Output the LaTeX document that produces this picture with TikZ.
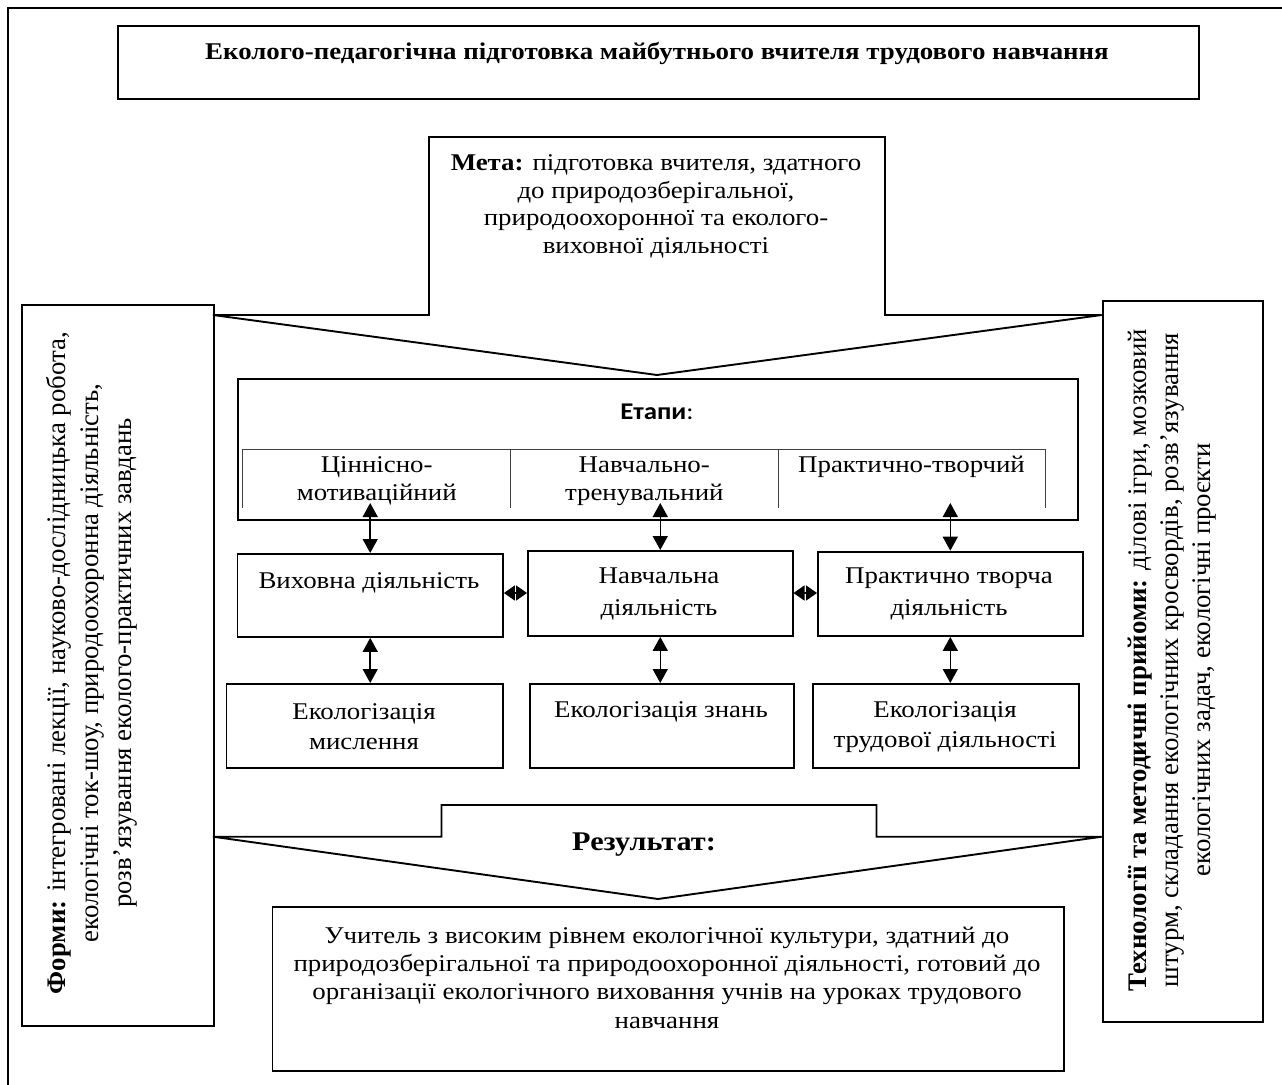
\documentclass[tikz,border=0pt]{standalone}
\usepackage{fontspec}
\setmainfont{Liberation Serif}[FakeStretch=1.12]
\newfontfamily\rotfont{Liberation Serif}
\newfontfamily\calib{Carlito}[FakeStretch=1.12]
\usetikzlibrary{arrows.meta}
\begin{document}
\begin{tikzpicture}[x=1pt,y=-1pt,
  box/.style={draw, line width=1.9pt, inner sep=0pt, anchor=north west},
  shape line/.style={draw, line width=1.9pt, line join=miter},
  thinline/.style={draw=black!75, line width=0.9pt},
  txt/.style={align=center, inner sep=0pt, font=\fontsize{24}{27.7}\selectfont},
  rottxt/.style={align=center, inner sep=0pt, rotate=90},
  dbl/.style={{Triangle[length=14pt,width=15pt]}-{Triangle[length=14pt,width=15pt]}, line width=1.5pt},
  hdbl/.style={{Triangle[length=11pt,width=15pt]}-{Triangle[length=11pt,width=15pt]}, line width=1.5pt},
]
\useasboundingbox (0,0) rectangle (1282,1084);
% outer frame
\draw[line width=2pt] (8,1100) -- (8,8) -- (1300,8);

% title
\node[box, minimum width=1081pt, minimum height=73pt] (title) at (117,24.7) {};
\node[txt, font=\bfseries\fontsize{24}{27.7}\selectfont] (title-t) at (657,53) {Еколого-педагогічна підготовка майбутнього вчителя трудового навчання};

% goal arrow
\draw[shape line] (213,315) -- (429,315) -- (429,137) -- (885,137) -- (885,315) -- (1101.7,315) -- (657,375) -- cycle;
\node[txt] (meta) at (656,206.5) {\textbf{Мета:} підготовка вчителя, здатного\\ до природозберігальної,\\ природоохоронної та еколого-\\ виховної діяльності};

% side panels
\node[box, minimum width=192.3pt, minimum height=721pt] (left) at (20.7,304) {};
\node[rottxt, font=\rotfont\fontsize{26.8}{33}\selectfont] (formy) at (92,663) {\textbf{Форми:} інтегровані лекції, науково-дослідницька робота,\\ екологічні ток-шоу, природоохоронна діяльність,\\ розв’язування еколого-практичних завдань};
\node[box, minimum width=160pt, minimum height=721pt] (right) at (1101.7,300) {};
\node[rottxt, font=\rotfont\fontsize{26.8}{32}\selectfont] (tekh) at (1172,660) {\textbf{Технології та методичні прийоми:} ділові ігри, мозковий\\ штурм, складання екологічних кросвордів, розв’язування\\ екологічних задач, екологічні проєкти};

% stages
\node[box, minimum width=840.6pt, minimum height=140.7pt] (etapy) at (236.7,378.3) {};
\node[inner sep=0pt] (etapy-t) at (657,412) {\calib\fontsize{24}{28}\selectfont\textbf{Етапи}:};
\draw[thinline] (242.7,508) -- (242.7,449) -- (1045,449) -- (1045,508);
\draw[thinline] (510.7,449) -- (510.7,508);
\draw[thinline] (778,449) -- (778,508);
\node[txt, font=\fontsize{24}{28}\selectfont] (s1) at (376.7,481) {Ціннісно-\\мотиваційний};
\node[txt, font=\fontsize{24}{28}\selectfont] (s2) at (644.3,481) {Навчально-\\тренувальний};
\node[txt, font=\fontsize{24}{28}\selectfont] (s3) at (911.5,467) {Практично-творчий};

% activities
\node[box, minimum width=265.5pt, minimum height=83pt] (vykh) at (236.5,553) {};
\node[txt] (vykh-t) at (369,583) {Виховна діяльність};
\node[box, minimum width=264.6pt, minimum height=85pt] (navch) at (527,550) {};
\node[txt, font=\fontsize{24}{32}\selectfont] (navch-t) at (659,593.5) {Навчальна\\діяльність};
\node[box, minimum width=264.7pt, minimum height=84.3pt] (prakt) at (817,550.7) {};
\node[txt, font=\fontsize{24}{32}\selectfont] (prakt-t) at (949,593.5) {Практично творча\\діяльність};

% ecologization
\node[box, minimum width=276.5pt, minimum height=84pt] (ekm) at (225.5,683) {};
\node[txt, font=\fontsize{24}{30}\selectfont] (ekm-t) at (364,727) {Екологізація\\мислення};
\node[box, minimum width=264pt, minimum height=84pt] (ekz) at (529,683) {};
\node[txt] (ekz-t) at (661,712) {Екологізація знань};
\node[box, minimum width=266pt, minimum height=84pt] (ekt) at (812,683) {};
\node[txt, font=\fontsize{24}{30}\selectfont] (ekt-t) at (945,727) {Екологізація\\трудової діяльності};

% connectors
\coordinate (sb) at (0,503);
\coordinate (hy) at (0,593);
\draw[dbl] (vykh.north |- sb) -- (vykh.north);
\draw[dbl] (navch.north |- sb) -- (navch.north);
\draw[dbl] (prakt.north |- sb) -- (prakt.north);
\draw[dbl] (vykh.south) -- (vykh.south |- ekm.north);
\draw[dbl] (navch.south) -- (navch.south |- ekz.north);
\draw[dbl] (prakt.south) -- (prakt.south |- ekt.north);
\draw[hdbl] (vykh.east |- hy) -- (navch.west |- hy);
\draw[hdbl] (navch.east |- hy) -- (prakt.west |- hy);

% result arrow
\draw[shape line] (213,836.7) -- (441.5,836.7) -- (441.5,805) -- (876.5,805) -- (876.5,836.7) -- (1101.7,836.7) -- (658,899) -- cycle;
\node[txt, font=\bfseries\fontsize{27}{30}\selectfont] (rez) at (644,845) {Результат:};

% result box
\node[box, minimum width=791.5pt, minimum height=164pt] (resbox) at (271.5,906) {};
\node[txt, font=\fontsize{24}{28.3}\selectfont] (res-t) at (667,977.5) {Учитель з високим рівнем екологічної культури, здатний до\\ природозберігальної та природоохоронної діяльності, готовий до\\ організації екологічного виховання учнів на уроках трудового\\ навчання};
\end{tikzpicture}
\end{document}
